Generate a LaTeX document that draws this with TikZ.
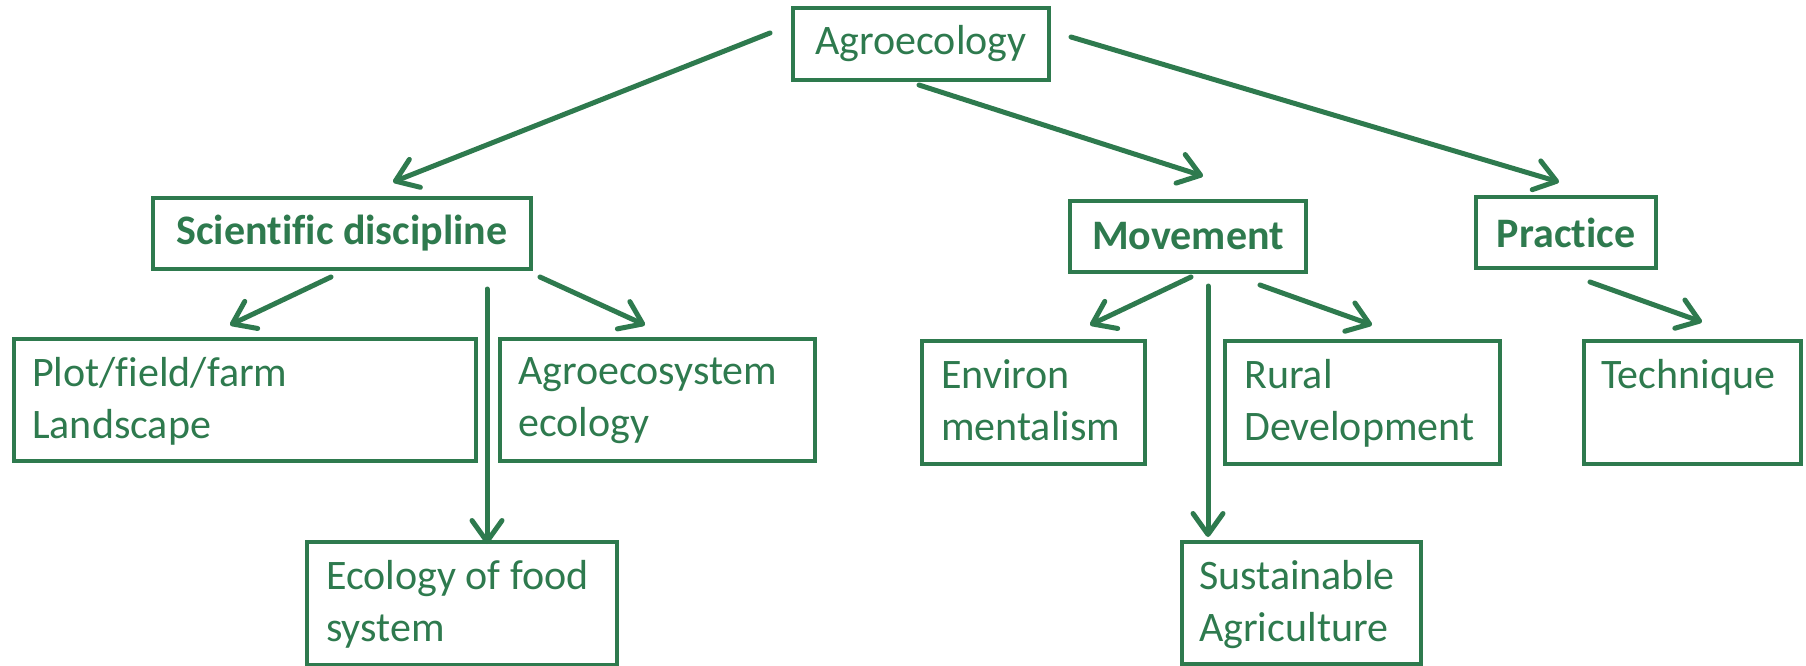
\documentclass[tikz,border=0pt]{standalone}
\usepackage{fontspec}
\setmainfont{Carlito}[Ligatures=NoCommon]
\usetikzlibrary{arrows.meta}
\definecolor{agreen}{RGB}{46,122,78}

\begin{document}
\begin{tikzpicture}[x=1pt, y=-1pt,
    box/.style={draw=agreen, line width=4pt, text=agreen, inner sep=0pt,
      font=\fontsize{42}{52}\selectfont},
    head/.style={box, font=\fontsize{42}{52}\selectfont\bfseries},
    leaf/.style={box, anchor=north west},
    txt/.style={text=agreen, anchor=north west, align=left, inner sep=0pt,
      font=\fontsize{42}{52}\selectfont},
    arr/.style={draw=agreen, line width=5pt, line cap=round,
      -{Straight Barb[length=21pt, width=30pt, round]}}]
  \useasboundingbox (0,0) rectangle (1806,665);

  % top and second level
  \node[box,  minimum width=256, minimum height=72] (agro) at (921,44) {Agroecology};
  \node[head, minimum width=378, minimum height=71] (sci)  at (342,233.5) {Scientific discipline};
  \node[head, minimum width=236, minimum height=71] (mov)  at (1188,236.5) {Movement};
  \node[head, minimum width=180, minimum height=71] (prac) at (1566,232.5) {Practice};

  % leaves
  \node[leaf, minimum width=462, minimum height=122] (plot)  at (12,337) {};
  \node[leaf, minimum width=315, minimum height=122] (agsys) at (498,337) {};
  \node[leaf, minimum width=310, minimum height=123] (food)  at (305,540) {};
  \node[leaf, minimum width=223, minimum height=123] (env)   at (920,339) {};
  \node[leaf, minimum width=275, minimum height=123] (rural) at (1223,339) {};
  \node[leaf, minimum width=217, minimum height=123] (tech)  at (1582,339) {};
  \node[leaf, minimum width=239, minimum height=122] (sust)  at (1180,540) {};

  \node[txt] (plott)  at ([shift={(20,20)}]plot.north west)  {Plot/field/farm\\Landscape};
  \node[txt] (agsyst) at ([shift={(20,20)}]agsys.north west) {Agroecosystem\\ecology};
  \node[txt] (foodt)  at ([shift={(21,20)}]food.north west)  {Ecology of food\\system};
  \node[txt] (envt)   at ([shift={(21,20)}]env.north west)   {Environ\\mentalism};
  \node[txt] (ruralt) at ([shift={(21,20)}]rural.north west) {Rural\\Development};
  \node[txt] (techt)  at ([shift={(19,20)}]tech.north west)  {Technique};
  \node[txt] (sustt)  at ([shift={(19,20)}]sust.north west)  {Sustainable\\Agriculture};

  % arrow ends
  \coordinate (a1) at (770,33);   \coordinate (b1) at (393,182);
  \coordinate (a2) at (919,85);   \coordinate (b2) at (1203,176);
  \coordinate (a3) at (1071,37);  \coordinate (b3) at (1559,182);
  \coordinate (a4) at (331,277);  \coordinate (b4) at (230,325);
  \coordinate (a5) at (487,289);  \coordinate (b5) at (487,544);
  \coordinate (a6) at (540,277);  \coordinate (b6) at (645,325);
  \coordinate (a7) at (1191,277); \coordinate (b7) at (1090,325);
  \coordinate (a8) at (1208,286); \coordinate (b8) at (1208,537);
  \coordinate (a9) at (1260,285); \coordinate (b9) at (1372,325);
  \coordinate (a10) at (1590,282); \coordinate (b10) at (1702,322);

  \draw[arr] (a1) -- (b1);
  \draw[arr] (a2) -- (b2);
  \draw[arr] (a3) -- (b3);
  \draw[arr] (a4) -- (b4);
  \draw[arr] (a5) -- (b5);
  \draw[arr] (a6) -- (b6);
  \draw[arr] (a7) -- (b7);
  \draw[arr] (a8) -- (b8);
  \draw[arr] (a9) -- (b9);
  \draw[arr] (a10) -- (b10);
\end{tikzpicture}
\end{document}
